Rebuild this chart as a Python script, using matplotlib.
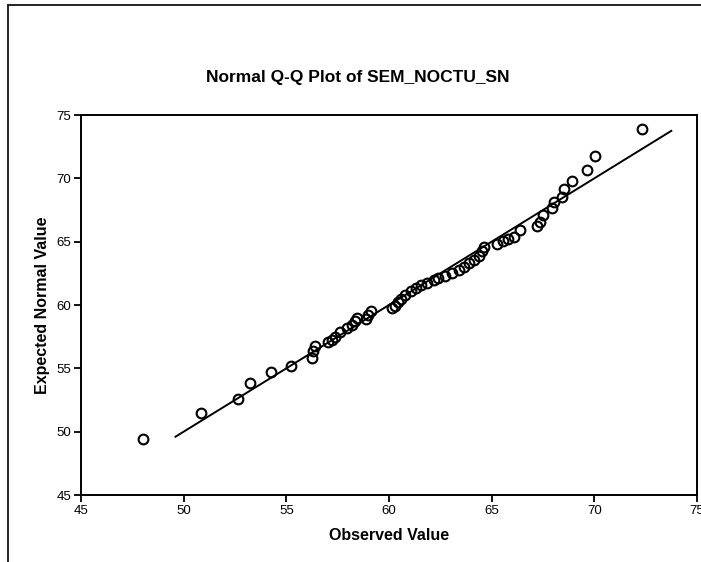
import matplotlib
matplotlib.use("Agg")
import matplotlib.pyplot as plt
from matplotlib.patches import Rectangle

plt.rcParams["font.family"] = ["Liberation Sans", "DejaVu Sans"]

observed = [48.03, 50.85, 52.63, 53.23, 54.24, 55.23, 56.24, 56.28, 56.38,
            57.05, 57.2, 57.35, 57.6, 57.94, 58.2, 58.35, 58.45, 58.9,
            59.0, 59.1, 60.15, 60.3, 60.45, 60.6, 60.8, 61.05, 61.3,
            61.55, 61.84, 62.17, 62.4, 62.73, 63.06, 63.4, 63.65, 63.9,
            64.14, 64.4, 64.55, 64.65, 65.25, 65.57, 65.81, 66.11, 66.38,
            67.2, 67.36, 67.49, 67.93, 68.06, 68.41, 68.53, 68.93, 69.63,
            70.04, 72.31]
expected = [49.39, 51.45, 52.58, 53.82, 54.68, 55.18, 55.79, 56.4, 56.79,
            57.05, 57.25, 57.5, 57.9, 58.2, 58.4, 58.7, 58.95, 58.9,
            59.25, 59.55, 59.74, 59.95, 60.2, 60.5, 60.8, 61.1, 61.35,
            61.55, 61.76, 61.97, 62.1, 62.3, 62.5, 62.75, 63.02, 63.28,
            63.55, 63.9, 64.25, 64.6, 64.81, 65.05, 65.18, 65.39, 65.92,
            66.23, 66.57, 67.1, 67.63, 68.15, 68.49, 69.15, 69.8, 70.65,
            71.78, 73.86]
line_x = [49.6, 73.75]
line_y = [49.6, 73.75]

fig = plt.figure(figsize=(7.01, 5.62), dpi=100)
ax = fig.add_axes([81 / 701, 1 - 495 / 562, 616 / 701, 380 / 562])

ax.plot(line_x, line_y, color="black", lw=1.4)
ax.plot(observed, expected, "o", mfc="none", mec="black", ms=7, mew=1.5)

ax.set_xlim(45, 75)
ax.set_ylim(45, 75)
ax.set_xticks(range(45, 76, 5))
ax.set_yticks(range(45, 76, 5))
ax.tick_params(direction="out", length=5, width=1.3, labelsize=9.5, pad=2)
for lbl in ax.get_xticklabels() + ax.get_yticklabels():
    lbl.set_family(["Liberation Sans Narrow", "Liberation Sans", "DejaVu Sans"])
for s in ax.spines.values():
    s.set_linewidth(1.4)

ax.set_xlabel("Observed Value", fontsize=11.5, fontweight="bold", labelpad=8)
ax.set_ylabel("Expected Normal Value", fontsize=11.5, fontweight="bold", labelpad=5)
fig.text(358 / 701, 1 - 77 / 562, "Normal Q-Q Plot of SEM_NOCTU_SN",
         ha="center", va="center", fontsize=12.5, fontweight="bold")

# outer chart frame
fig.patches.append(Rectangle((8 / 701, -0.05), 1.1, 1 - 5 / 562 + 0.05,
                             transform=fig.transFigure, fill=False,
                             ec="#222222", lw=1.4))

fig.savefig("out.png", dpi=100)
